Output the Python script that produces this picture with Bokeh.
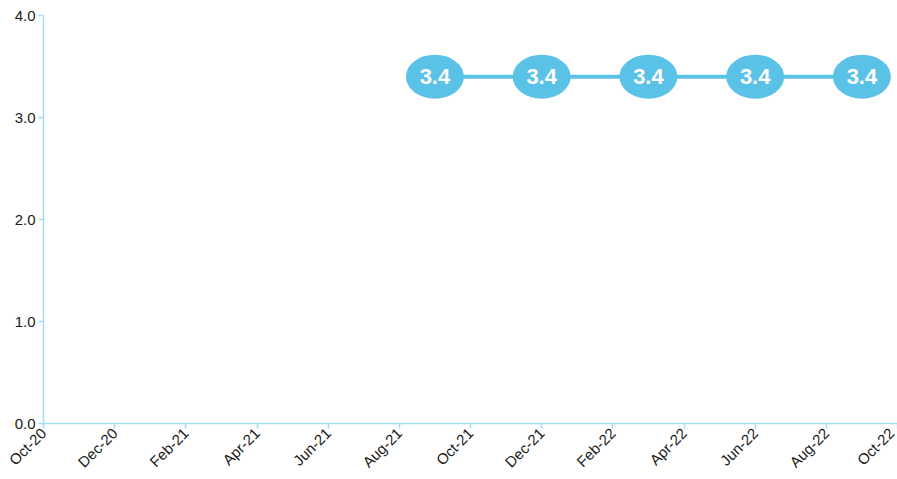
import math
from bokeh.plotting import figure
from bokeh.models import ColumnDataSource, FixedTicker, Range1d
from bokeh.core.properties import value
from bokeh.embed import file_html
from bokeh.resources import INLINE

# axis months (Oct-20 .. Oct-22), ticks every two months
tick_labels = ["Oct-20", "Dec-20", "Feb-21", "Apr-21", "Jun-21", "Aug-21", "Oct-21",
               "Dec-21", "Feb-22", "Apr-22", "Jun-22", "Aug-22", "Oct-22"]
y_ticks = [0.0, 1.0, 2.0, 3.0, 4.0]

# series
point_months = ["Sep-21", "Dec-21", "Mar-22", "Jun-22", "Sep-22"]
point_values = [3.4, 3.4, 3.4, 3.4, 3.4]

month_names = ["Jan", "Feb", "Mar", "Apr", "May", "Jun", "Jul", "Aug", "Sep", "Oct", "Nov", "Dec"]

def month_index(lbl):
    m, y = lbl.split("-")
    return (int(y) - 20) * 12 + month_names.index(m) - month_names.index("Oct")

tick_pos = [month_index(t) for t in tick_labels]
xs = [month_index(m) for m in point_months]
src = ColumnDataSource(dict(x=xs, y=point_values, label=[f"{v:.1f}" for v in point_values]))

BLUE = "#5bc2e7"
AXIS = "#a6ddf2"
FONT = "Liberation Sans"

p = figure(width=897, height=479, output_backend="svg", toolbar_location=None,
           x_range=Range1d(0, 24), y_range=Range1d(0, 4),
           min_border_left=43, min_border_right=0, min_border_top=15, min_border_bottom=50)
p.outline_line_color = None
p.xgrid.visible = False
p.ygrid.visible = False

p.line("x", "y", source=src, line_color=BLUE, line_width=4)
p.ellipse("x", "y", width=58, height=44, width_units="screen", height_units="screen",
          source=src, fill_color=BLUE, line_color=None)
p.text("x", "y", text="label", source=src, text_color="white", text_font=value(FONT),
       text_font_style="bold", text_font_size="22px", text_align="center", text_baseline="middle")

for ax in (p.xaxis[0], p.yaxis[0]):
    ax.axis_line_color = AXIS
    ax.axis_line_width = 1.5
    ax.major_tick_line_color = AXIS
    ax.major_tick_line_width = 1.5
    ax.minor_tick_line_color = None
    ax.major_tick_in = 0
    ax.major_tick_out = 5
    ax.major_label_text_font = FONT
    ax.major_label_text_font_size = "15px"
    ax.major_label_text_color = "#1a1a1a"

p.xaxis[0].major_label_standoff = 2
p.yaxis[0].major_label_standoff = 3
p.xaxis[0].ticker = FixedTicker(ticks=tick_pos)
p.xaxis[0].major_label_overrides = {k: v for k, v in zip(tick_pos, tick_labels)}
p.xaxis[0].major_label_orientation = math.pi / 4
p.yaxis[0].ticker = FixedTicker(ticks=y_ticks)
p.yaxis[0].major_label_overrides = {v: f"{v:.1f}" for v in y_ticks}

open("out.html", "w").write(file_html(p, INLINE))
